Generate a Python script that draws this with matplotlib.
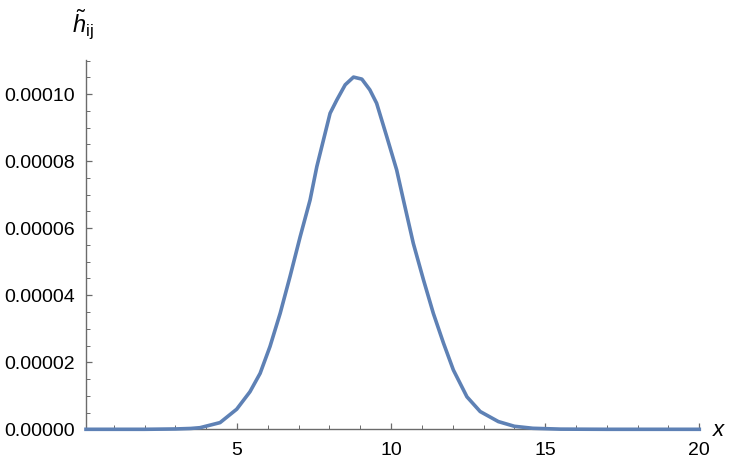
import numpy as np
import matplotlib
matplotlib.use("Agg")
import matplotlib.pyplot as plt
from matplotlib.ticker import FixedLocator, FuncFormatter

# values
x_vals = [0.1, 1.0, 2.0, 3.0, 3.5, 3.8, 4.45, 4.99, 5.42, 5.75, 6.07, 6.40, 6.72,
          7.05, 7.37, 7.59, 8.02, 8.24, 8.51, 8.78, 9.05, 9.31, 9.53, 9.86,
          10.18, 10.40, 10.72, 11.05, 11.37, 11.70, 12.02, 12.46, 12.89, 13.48,
          14.0, 14.6, 15.5, 17.0, 20.0]
h_vals = [0.0, 0.0, 0.0, 1e-7, 2.5e-7, 4.8e-7, 2.0e-6, 6.0e-6, 1.12e-5, 1.67e-5,
          2.47e-5, 3.46e-5, 4.56e-5, 5.75e-5, 6.84e-5, 7.84e-5, 9.43e-5,
          9.83e-5, 1.028e-4, 1.051e-4, 1.045e-4, 1.013e-4, 9.73e-5, 8.73e-5,
          7.74e-5, 6.84e-5, 5.55e-5, 4.46e-5, 3.46e-5, 2.57e-5, 1.77e-5,
          9.7e-6, 5.3e-6, 2.3e-6, 9e-7, 3e-7, 5e-8, 0.0, 0.0]

x_major = [5, 10, 15, 20]
x_minor = [i for i in range(1, 20) if i % 5 != 0]
y_major = [0.0, 0.00002, 0.00004, 0.00006, 0.00008, 0.00010]
y_minor = [0.000005 * k for k in range(1, 23) if k % 4 != 0]

plt.rcParams['font.family'] = ['Liberation Sans', 'DejaVu Sans']
plt.rcParams['mathtext.fontset'] = 'custom'
plt.rcParams['mathtext.rm'] = 'Liberation Sans'
plt.rcParams['mathtext.it'] = 'Liberation Sans:italic'

axis_gray = '#6b6b6b'

fig = plt.figure(figsize=(7.38, 4.66), dpi=100)
ax = fig.add_axes([86 / 738, 1 - 429.3 / 466, (699.3 - 86) / 738, (429.3 - 60) / 466])

ax.plot(x_vals, h_vals, color='#5E81B5', linewidth=2.6, clip_on=False, zorder=3,
        solid_joinstyle='round')

ax.set_xlim(0.1, 20)
ax.set_ylim(0, 0.0001102)

for side in ['top', 'right']:
    ax.spines[side].set_visible(False)
for side in ['left', 'bottom']:
    ax.spines[side].set_color(axis_gray)
    ax.spines[side].set_linewidth(1.0)

ax.xaxis.set_major_locator(FixedLocator(x_major))
ax.xaxis.set_minor_locator(FixedLocator(x_minor))
ax.yaxis.set_major_locator(FixedLocator(y_major))
ax.yaxis.set_minor_locator(FixedLocator(y_minor))
ax.yaxis.set_major_formatter(FuncFormatter(lambda v, p: f"{v:.5f}"))
ax.xaxis.set_major_formatter(FuncFormatter(lambda v, p: f"{v:g}"))

ax.tick_params(which='both', direction='in', color=axis_gray, labelsize=14,
               labelcolor='black')
ax.tick_params(which='major', length=4.5, width=0.9)
ax.tick_params(which='minor', length=2.7, width=0.7)
ax.tick_params(axis='x', which='major', pad=9)
ax.tick_params(axis='y', which='major', pad=8)

ax.text(83 / 738, 1 - 33 / 466, r'$\tilde{h}_{\mathrm{ij}}$', transform=fig.transFigure,
        ha='center', va='baseline', fontsize=17)
ax.text(719 / 738, 1 - 430 / 466, r'$x$', transform=fig.transFigure,
        ha='center', va='center', fontsize=16)

fig.savefig('out.png', dpi=100)
